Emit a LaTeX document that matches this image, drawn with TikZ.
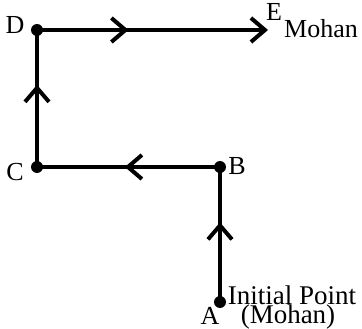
\documentclass[tikz,border=0pt]{standalone}
\usepackage{fontspec}
\setmainfont{Liberation Serif}
\usetikzlibrary{arrows.meta,decorations.markings}
\tikzset{
  dot/.style={circle,fill=black,inner sep=0pt,minimum size=12pt},
  seg/.style={line width=3.3pt},
  midarrow/.style={postaction={decorate},decoration={markings,
     mark=at position #1 with {\arrow{Straight Barb[length=14pt,width=24pt,line width=4pt]}}}},
  lbl/.style={inner sep=0pt,font=\fontsize{26}{28}\selectfont},
  big/.style={inner sep=0pt,font=\fontsize{27}{28}\selectfont},
}
\begin{document}
\begin{tikzpicture}[x=1pt,y=-1pt]
\useasboundingbox (0,0) rectangle (362,329);
\node[dot] (d) at (37,30) {};
\node[dot] (c) at (37,167) {};
\node[dot] (b) at (220,167) {};
\node[dot] (a) at (220,302) {};
\coordinate (e) at (268,30);
\draw[seg,midarrow=0.59] (a.center) -- (b.center);
\draw[seg,midarrow=0.52] (b.center) -- (c.center);
\draw[seg,midarrow=0.6] (c.center) -- (d.center);
\draw[seg,midarrow=0.396,-{Straight Barb[length=14pt,width=24pt,line width=4pt]}] (d.center) -- (e);
\node[lbl] (ld) at (15,25) {D};
\node[lbl] (lc) at (15,172) {C};
\node[lbl] (lb) at (237,166) {B};
\node[lbl] (la) at (210,316) {A};
\node[lbl] (le) at (274,12) {E};
\node[lbl,anchor=base] (lm) at (321,38) {Mohan};
\node[big,anchor=base] (li) at (292,304) {Initial Point};
\node[big,anchor=base] (lo) at (288,323) {(Mohan)};
\end{tikzpicture}
\end{document}
